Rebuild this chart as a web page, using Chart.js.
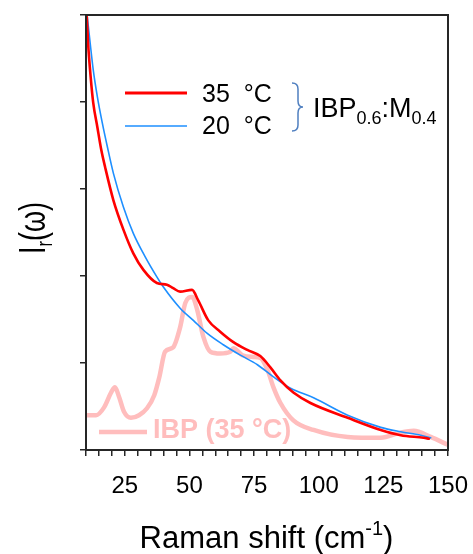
<!DOCTYPE html>
<html>
<head>
<meta charset="utf-8">
<script src="https://cdn.jsdelivr.net/npm/chart.js@4.4.0/dist/chart.umd.min.js"></script>
<style>
  html, body { margin: 0; padding: 0; background: #fff; }
  canvas { display: block; }
</style>
</head>
<body>
<canvas id="myChart" width="473" height="554"></canvas>
<script>
// Raman shift (cm-1) and reduced intensity
const redShift = [10.3, 10.8, 11.8, 12.8, 14.4, 15.9, 17.4, 20.6, 24.5, 28.3, 32.2, 37.4, 41.3, 43.7, 46.4, 51.0, 53.4, 57.3, 61.9, 67.0, 72.4, 77.4, 81.3, 85.2, 90.2, 96.8, 111.2, 124.0, 131.7, 140.6, 142.6];
const redInt = [4.98, 4.68, 4.29, 3.99, 3.71, 3.45, 3.25, 2.87, 2.53, 2.26, 2.07, 1.92, 1.90, 1.86, 1.82, 1.84, 1.72, 1.49, 1.36, 1.24, 1.15, 1.08, 0.95, 0.80, 0.66, 0.54, 0.37, 0.23, 0.17, 0.14, 0.13];

const blueShift = [10.5, 11.6, 12.8, 14.4, 16.3, 18.3, 20.6, 24.5, 28.3, 32.9, 37.4, 40.0, 46.4, 51.5, 56.9, 63.1, 69.7, 76.3, 82.5, 89.1, 98.0, 111.2, 124.0, 131.7, 139.5, 143.3];
const blueInt = [4.98, 4.68, 4.37, 4.06, 3.76, 3.48, 3.18, 2.79, 2.49, 2.22, 1.99, 1.87, 1.63, 1.49, 1.34, 1.21, 1.09, 0.98, 0.84, 0.71, 0.60, 0.40, 0.26, 0.21, 0.17, 0.14];

const pinkShift = [10.0, 13.9, 17.0, 19.7, 21.2, 22.8, 24.7, 27.4, 30.5, 33.6, 36.4, 38.3, 40.6, 43.7, 46.4, 48.4, 51.1, 53.0, 55.4, 58.1, 61.9, 65.8, 67.0, 70.5, 74.7, 77.4, 80.2, 82.5, 85.2, 90.2, 98.0, 111.2, 124.0, 131.7, 136.7, 143.3, 149.9];
const pinkInt = [0.40, 0.40, 0.49, 0.66, 0.72, 0.61, 0.44, 0.37, 0.40, 0.48, 0.63, 0.83, 1.13, 1.18, 1.41, 1.69, 1.76, 1.61, 1.30, 1.13, 1.11, 1.13, 1.17, 1.09, 1.07, 1.06, 0.92, 0.72, 0.54, 0.34, 0.23, 0.15, 0.14, 0.20, 0.22, 0.15, 0.06];

const xLabels = [25, 50, 75, 100, 125, 150];

const RED = "#ff0000";
const BLUE = "#1e8fff";
const PINK = "#ffbdbd";
const AXIS = "#262626";
const FONT = "'Liberation Sans', Arial, sans-serif";

const pts = (xs, ys) => xs.map((x, i) => ({ x: x, y: ys[i] }));

// draw a row of text pieces (for sub/superscripts)
function drawRuns(ctx, x, y, runs) {
  let cx = x;
  runs.forEach((r) => {
    ctx.font = (r.bold ? "bold " : "") + r.size + "px " + FONT;
    ctx.fillText(r.t, cx, y + (r.dy || 0));
    cx += ctx.measureText(r.t).width;
  });
  return cx - x;
}
function runsWidth(ctx, runs) {
  let w = 0;
  runs.forEach((r) => {
    ctx.font = (r.bold ? "bold " : "") + r.size + "px " + FONT;
    w += ctx.measureText(r.t).width;
  });
  return w;
}

const extras = {
  id: "extras",
  afterDraw(chart) {
    const { ctx, chartArea: a } = chart;
    ctx.save();
    // frame
    ctx.strokeStyle = AXIS;
    ctx.lineWidth = 2;
    ctx.strokeRect(a.left, a.top, a.right - a.left, a.bottom - a.top);

    ctx.textBaseline = "alphabetic";
    ctx.fillStyle = "#000";

    // legend: 35 / 20 °C
    ctx.lineCap = "butt";
    ctx.strokeStyle = RED; ctx.lineWidth = 3;
    ctx.beginPath(); ctx.moveTo(125, 93); ctx.lineTo(187, 93); ctx.stroke();
    ctx.strokeStyle = BLUE; ctx.lineWidth = 1.6;
    ctx.beginPath(); ctx.moveTo(125, 126); ctx.lineTo(187, 126); ctx.stroke();
    ctx.font = "25px " + FONT;
    ctx.fillText("35  °C", 202, 102);
    ctx.fillText("20  °C", 202, 134);

    // bracket
    ctx.strokeStyle = "#4f7fc0"; ctx.lineWidth = 1.5;
    ctx.beginPath();
    ctx.moveTo(292, 83);
    ctx.quadraticCurveTo(298, 83, 298, 89);
    ctx.lineTo(298, 101);
    ctx.quadraticCurveTo(298, 107, 303, 107);
    ctx.quadraticCurveTo(298, 107, 298, 113);
    ctx.lineTo(298, 125);
    ctx.quadraticCurveTo(298, 131, 292, 131);
    ctx.stroke();

    drawRuns(ctx, 313, 117, [
      { t: "IBP", size: 27 },
      { t: "0.6", size: 18, dy: 7 },
      { t: ":M", size: 27 },
      { t: "0.4", size: 18, dy: 7 }
    ]);

    // IBP legend inside the plot
    ctx.strokeStyle = PINK; ctx.lineWidth = 4.5;
    ctx.beginPath(); ctx.moveTo(99, 432); ctx.lineTo(147, 432); ctx.stroke();
    ctx.fillStyle = PINK;
    ctx.font = "bold 27px " + FONT;
    ctx.fillText("IBP (35 °C)", 153, 438);

    // x title
    ctx.fillStyle = "#000";
    const xt = [
      { t: "Raman shift (cm", size: 31 },
      { t: "-1", size: 20, dy: -13 },
      { t: ")", size: 31 }
    ];
    const xw = runsWidth(ctx, xt);
    drawRuns(ctx, 266.5 - xw / 2, 548, xt);

    // y title
    const yt = [
      { t: "I", size: 36 },
      { t: "r", size: 22, dy: 7 },
      { t: "(ω)", size: 36 }
    ];
    const yw = runsWidth(ctx, yt);
    const sx = 52 / yw;
    ctx.translate(45, 228);
    ctx.rotate(-Math.PI / 2);
    ctx.scale(sx, 1);
    drawRuns(ctx, -yw / 2, 0, yt);
    ctx.restore();
  }
};

const ctx = document.getElementById("myChart").getContext("2d");
const myChart = new Chart(ctx, {
  type: "line",
  data: {
    datasets: [
      {
        label: "35 °C",
        data: pts(redShift, redInt),
        borderColor: RED,
        borderWidth: 2.6,
        order: 1
      },
      {
        label: "20 °C",
        data: pts(blueShift, blueInt),
        borderColor: BLUE,
        borderWidth: 1.6,
        order: 2
      },
      {
        label: "IBP (35 °C)",
        data: pts(pinkShift, pinkInt),
        borderColor: PINK,
        borderWidth: 4.5,
        order: 3
      }
    ]
  },
  options: {
    responsive: false,
    animation: false,
    parsing: false,
    elements: {
      point: { radius: 0 },
      line: { cubicInterpolationMode: "monotone", borderCapStyle: "round", borderJoinStyle: "round" }
    },
    layout: { padding: { top: 15, right: 25, left: 0, bottom: 0 } },
    plugins: { legend: { display: false }, tooltip: { enabled: false } },
    scales: {
      x: {
        type: "linear",
        min: 10,
        max: 150,
        afterFit: (s) => { s.height = 104; s.paddingLeft = 0; s.paddingRight = 0; },
        border: { display: true, color: AXIS, width: 2 },
        grid: { drawOnChartArea: false, drawTicks: true, tickLength: 6, color: AXIS, lineWidth: 1.5 },
        ticks: {
          stepSize: 5,
          autoSkip: false,
          maxRotation: 0,
          padding: 16,
          color: "#000",
          font: { family: FONT, size: 24 },
          callback: (v) => (xLabels.includes(v) ? String(v) : "")
        }
      },
      y: {
        min: 0,
        max: 5,
        afterFit: (s) => { s.width = 86; s.paddingTop = 0; s.paddingBottom = 0; },
        border: { display: true, color: AXIS, width: 2 },
        grid: { drawOnChartArea: false, drawTicks: true, tickLength: 6, color: AXIS, lineWidth: 1.5 },
        ticks: { stepSize: 1, callback: () => "" }
      }
    }
  },
  plugins: [extras]
});
</script>
</body>
</html>
